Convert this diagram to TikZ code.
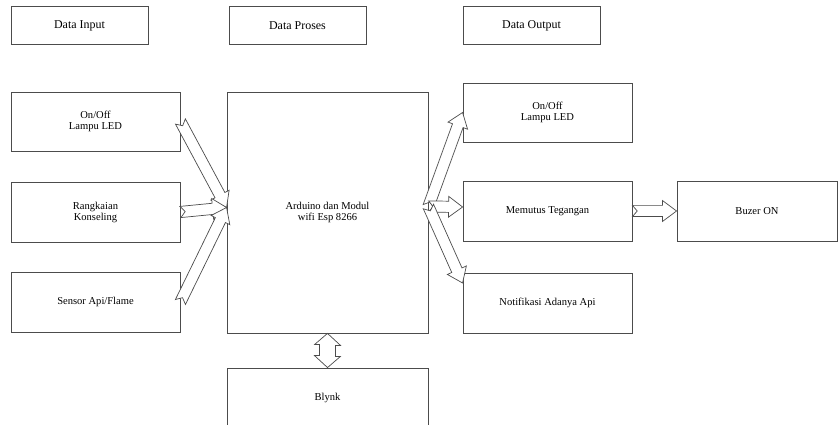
\documentclass[tikz,border=0pt]{standalone}
\usepackage{fontspec}
\setmainfont{Liberation Serif}
\usetikzlibrary{calc}

\tikzset{
  kotak/.style 2 args={draw=black!70, line width=0.6pt, minimum width={#1*0.025cm},
      minimum height={#2*0.025cm}, inner sep=0pt, align=center,
      font=\fontsize{7.5}{7.8}\selectfont},
  judul/.style={kotak={137}{38}, font=\fontsize{8.5}{10}\selectfont},
  panah/.style={draw=black!70, line width=0.5pt, fill=white, line join=miter}
}

% block arrow from #1 to #2
\def\lebar{0.14cm}
\def\kepala{0.26cm}
\def\ujung{0.35cm}
\def\takik{0.12cm}
\newcommand{\panah}[2]{%
  \draw[panah] ($(#1)!\lebar!90:(#2)$)
    -- ($(#2)!\ujung!(#1)!\lebar!90:(#2)$)
    -- ($(#2)!\ujung!(#1)!\kepala!90:(#2)$)
    -- (#2)
    -- ($(#2)!\ujung!(#1)!\kepala!-90:(#2)$)
    -- ($(#2)!\ujung!(#1)!\lebar!-90:(#2)$)
    -- ($(#1)!\lebar!-90:(#2)$)
    -- ($(#1)!\takik!(#2)$) -- cycle;
}

\begin{document}
\begin{tikzpicture}[x=0.025cm, y=-0.025cm]
	\useasboundingbox (0,0) rectangle (838,425);

	% header
	\node[judul] (judulin) at (79.5,25.5) {Data Input};
	\node[judul] (judulpro) at (297.5,25.5) {Data Proses};
	\node[judul] (judulout) at (531.5,25.5) {Data Output};

	% input
	\node[kotak={169}{59}] (in1) at (95.5,121.5) {On/Off\\Lampu LED};
	\node[kotak={169}{60}] (in2) at (95.5,212) {Rangkaian\\Konseling};
	\node[kotak={169}{60}] (in3) at (95.5,302) {Sensor Api/Flame};

	% proses
	\node[kotak={201}{241}] (proses) at (327.5,212.5) {Arduino dan Modul\\wifi Esp 8266};
	\node[kotak={201}{60}] (blynk) at (327.5,398) {Blynk};

	% output
	\node[kotak={169}{59}] (out1) at (547.5,112.5) {On/Off\\Lampu LED};
	\node[kotak={169}{60}] (out2) at (547.5,211) {Memutus Tegangan};
	\node[kotak={169}{60}] (out3) at (547.5,303) {Notifikasi Adanya Api};
	\node[kotak={160}{60}] (buzer) at (757,211) {Buzer ON};

	\coordinate (masuk) at ($(proses.west)+(0,-5)$);
	\coordinate (keluar) at ($(proses.east)+(0,-6)$);

	\foreach \n in {in1,in2,in3} {
		\panah{\n.east}{masuk}
	}
	\panah{keluar}{out1.west}
	\panah{keluar}{$(out2.west)+(0,-4)$}
	\panah{keluar}{$(out3.west)+(0,-20)$}
	\panah{out2.east}{buzer.west}

	% proses <-> blynk
	\draw[panah] (proses.south) -- ++(13,12) -- ++(-5,0) -- ++(0,11) -- ++(5,0)
		-- (blynk.north) -- ++(-13,-12) -- ++(5,0) -- ++(0,-11) -- ++(-5,0) -- cycle;
\end{tikzpicture}
\end{document}
